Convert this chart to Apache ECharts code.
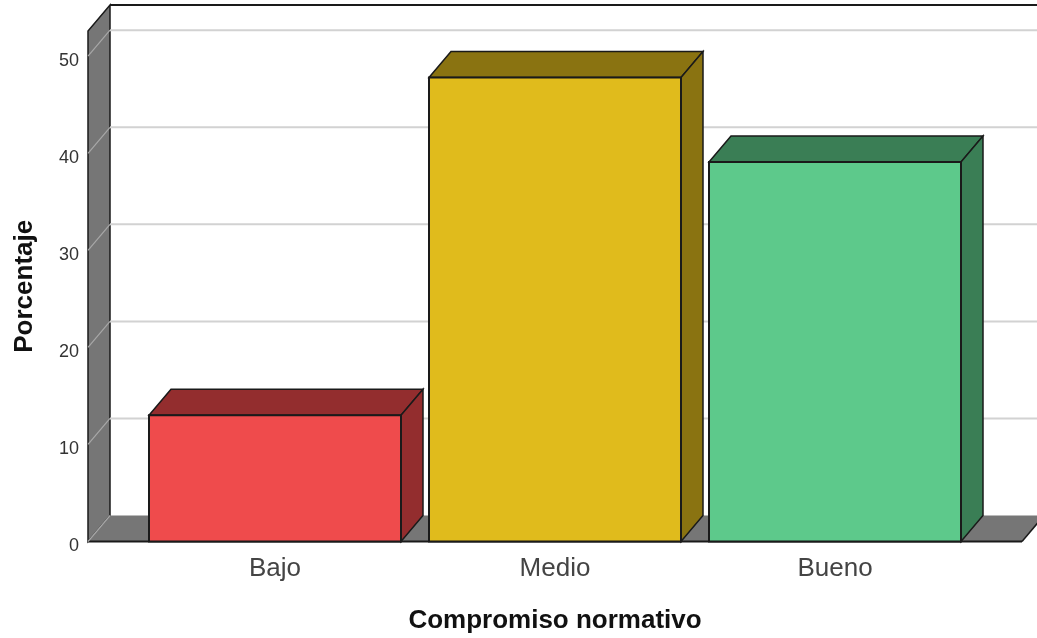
<!DOCTYPE html>
<html>
<head>
<meta charset="utf-8">
<style>html,body{margin:0;padding:0;background:#fff}#chart{width:1037px;height:638px}</style>
<script src="https://cdn.jsdelivr.net/npm/echarts@6/dist/echarts.min.js"></script>
</head>
<body>
<div id="chart"></div>
<script>
// Porcentaje por nivel de compromiso normativo
const categories = ['Bajo', 'Medio', 'Bueno'];
const percentages = [13.0, 47.8, 39.1];
const gridValues = [0, 10, 20, 30, 40, 50];
const frontColors = ['#EF4B4C', '#E0BB1C', '#5DC98B'];
const shadeColors = ['#932D2E', '#8A7311', '#3A7E55'];
const axisMax = 52.6;

// Fake-3D depth of the box, in pixels
const DX = 22, DY = -26;
// Distance from the first band centre to the front corner of the wall
const WALL_INSET = 187;
const EDGE = '#1a1a1a';

const chart = echarts.init(document.getElementById('chart'), null, {renderer: 'canvas'});

function poly(points, fill, lineWidth) {
  return {
    type: 'polygon',
    shape: {points},
    style: {fill, stroke: EDGE, lineWidth: lineWidth === undefined ? 1.5 : lineWidth, lineJoin: 'miter'}
  };
}

// Side wall, floor and the back plane's top edge
function renderWalls(params, api) {
  const base = api.coord([0, 0]);
  const top = api.coord([0, axisMax]);
  const right = api.coord([2, 0])[0] + api.size([1, 0])[0] / 2 + 47;
  const x0 = base[0] - WALL_INSET, y0 = base[1], y1 = top[1];
  const wallFill = '#767676';
  return {
    type: 'group',
    children: [
      poly([[x0, y0], [x0 + DX, y0 + DY], [x0 + DX, y1 + DY], [x0, y1]], wallFill),
      {type: 'polygon',
        shape: {points: [[x0, y0], [x0 + DX, y0 + DY], [right + DX, y0 + DY], [right, y0]]},
        style: {fill: wallFill}},
      {type: 'line', shape: {x1: right, y1: y0, x2: right + DX, y2: y0 + DY},
        style: {stroke: EDGE, lineWidth: 1.5}},
      {type: 'line', shape: {x1: x0 + DX, y1: y1 + DY, x2: right + DX, y2: y1 + DY},
        style: {stroke: EDGE, lineWidth: 2}},
      {type: 'line', shape: {x1: x0, y1: y0, x2: right, y2: y0},
        style: {stroke: EDGE, lineWidth: 2}}
    ]
  };
}

// Grid line across the back plane plus its diagonal over the wall
function renderGridLine(params, api) {
  const v = api.value(0);
  const p = api.coord([0, v]);
  const right = api.coord([2, 0])[0] + api.size([1, 0])[0] / 2 + 47;
  const x0 = p[0] - WALL_INSET;
  const children = [{
    type: 'line',
    shape: {x1: x0, y1: p[1], x2: x0 + DX, y2: p[1] + DY},
    style: {stroke: '#A8A8A8', lineWidth: 1.2}
  }];
  if (v > 0) {
    children.push({
      type: 'line',
      shape: {x1: x0 + DX, y1: p[1] + DY, x2: right + DX, y2: p[1] + DY},
      style: {stroke: '#D2D2D2', lineWidth: 2}
    });
  }
  return {type: 'group', children};
}

// Box with front face, top face and right side face
function renderBar(params, api) {
  const i = api.value(0);
  const bottom = api.coord([i, 0]);
  const top = api.coord([i, api.value(1)]);
  const half = api.size([1, 0])[0] * 0.45;
  const l = bottom[0] - half, r = bottom[0] + half, b = bottom[1], t = top[1];
  return {
    type: 'group',
    children: [
      poly([[l, t], [l + DX, t + DY], [r + DX, t + DY], [r, t]], shadeColors[i]),
      poly([[r, t], [r + DX, t + DY], [r + DX, b + DY], [r, b]], shadeColors[i]),
      poly([[l, t], [r, t], [r, b], [l, b]], frontColors[i], 2)
    ]
  };
}

chart.setOption({
  animation: false,
  backgroundColor: '#fff',
  grid: {left: 135, width: 840, top: 31, height: 510.5, outerBoundsMode: 'none'},
  xAxis: {
    type: 'category',
    data: categories,
    axisLine: {show: false},
    axisTick: {show: false},
    axisLabel: {margin: 14, fontSize: 26, color: '#444', fontFamily: 'Liberation Sans'},
    name: 'Compromiso normativo',
    nameLocation: 'middle',
    nameGap: 66,
    nameTextStyle: {fontSize: 26, fontWeight: 'bold', color: '#111', fontFamily: 'Liberation Sans'}
  },
  yAxis: {
    type: 'value',
    min: 0,
    max: axisMax,
    interval: 10,
    offset: 47,
    axisLine: {show: false},
    axisTick: {show: false},
    splitLine: {show: false},
    axisLabel: {margin: 9, fontSize: 18, color: '#333', showMaxLabel: false,
      verticalAlign: 'top', lineHeight: 10, fontFamily: 'Liberation Sans'},
    name: 'Porcentaje',
    nameLocation: 'middle',
    nameGap: 50,
    nameTextStyle: {fontSize: 26, fontWeight: 'bold', color: '#111', fontFamily: 'Liberation Sans'}
  },
  series: [
    {type: 'custom', clip: false, silent: true, z: 1, data: [[0]], renderItem: renderWalls},
    {type: 'custom', clip: false, silent: true, z: 2, data: gridValues.map(v => [v]), renderItem: renderGridLine,
      encode: {y: 0}},
    {type: 'custom', clip: false, z: 3, data: percentages.map((v, i) => [i, v]), renderItem: renderBar,
      encode: {x: 0, y: 1}}
  ]
});
</script>
</body>
</html>
